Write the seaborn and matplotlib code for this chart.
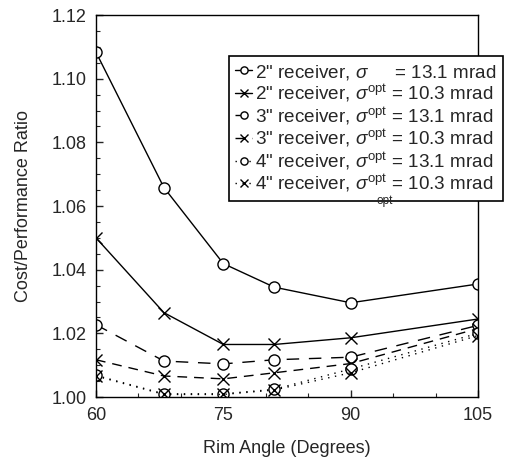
import matplotlib
matplotlib.use("Agg")
import matplotlib.pyplot as plt
from matplotlib.ticker import MultipleLocator
import seaborn as sns
import pandas as pd

# rim angles (degrees)
rim_angle = [60, 68, 75, 81, 90, 105]

# cost/performance ratio for each receiver / slope error case
r2_131 = [1.1083, 1.0658, 1.0419, 1.0345, 1.0296, 1.0355]
r2_103 = [1.0500, 1.0265, 1.0165, 1.0165, 1.0186, 1.0245]
r3_131 = [1.0227, 1.0113, 1.0104, 1.0117, 1.0125, 1.0225]
r3_103 = [1.0117, 1.0066, 1.0057, 1.0076, 1.0105, 1.0215]
r4_131 = [1.0068, 1.0010, 1.0010, 1.0024, 1.0088, 1.0200]
r4_103 = [1.0066, 1.0008, 1.0008, 1.0022, 1.0076, 1.0193]

labels = [
    '2" receiver, $\\sigma\\quad\\;\\,$ = 13.1 mrad',
    '2" receiver, $\\sigma^{\\mathrm{opt}}$ = 10.3 mrad',
    '3" receiver, $\\sigma^{\\mathrm{opt}}$ = 13.1 mrad',
    '3" receiver, $\\sigma^{\\mathrm{opt}}$ = 10.3 mrad',
    '4" receiver, $\\sigma^{\\mathrm{opt}}$ = 13.1 mrad',
    '4" receiver, $\\sigma^{\\mathrm{opt}}$ = 10.3 mrad',
]

sns.set_style("ticks")
plt.rcParams['font.family'] = ['Liberation Sans', 'DejaVu Sans']
plt.rcParams['mathtext.fontset'] = 'custom'
plt.rcParams['mathtext.rm'] = 'Liberation Sans'
plt.rcParams['mathtext.it'] = 'Liberation Sans:italic'
plt.rcParams['xtick.direction'] = 'in'
plt.rcParams['ytick.direction'] = 'in'

fig = plt.figure(figsize=(5.1, 4.61), dpi=100)
ax = fig.add_axes([96 / 510, 1 - 397 / 461, (478 - 96) / 510, (397 - 15) / 461])

series = [r2_131, r2_103, r3_131, r3_103, r4_131, r4_103]
markers = ['o', 'x', 'o', 'x', 'o', 'x']
styles = ['-', '-', (0, (9, 7)), (0, (7, 5)), (0, (1, 4)), (0, (1, 4))]

for vals, lab, m, ls in zip(series, labels, markers, styles):
    df = pd.DataFrame({'angle': rim_angle, 'ratio': vals})
    sns.lineplot(data=df, x='angle', y='ratio', ax=ax, label=lab,
                 color='black', linewidth=1.0, linestyle=ls,
                 marker=m, markersize=8, markerfacecolor='white',
                 markeredgecolor='black', markeredgewidth=1.0)

ax.set_xlim(60, 105)
ax.set_ylim(1.00, 1.12)
ax.xaxis.set_major_locator(MultipleLocator(15))
ax.xaxis.set_minor_locator(MultipleLocator(5))
ax.yaxis.set_minor_locator(MultipleLocator(0.005))
ax.set_yticks([1.00, 1.02, 1.04, 1.06, 1.08, 1.10, 1.12])
ax.set_yticklabels(['1.00', '1.02', '1.04', '1.06', '1.08', '1.10', '1.12'])
ax.tick_params(which='major', length=5, width=1, labelsize=13, pad=7)
ax.tick_params(which='minor', length=3, width=0.8)
for s in ax.spines.values():
    s.set_linewidth(1.0)
    s.set_color('black')

ax.set_xlabel('Rim Angle (Degrees)', fontsize=13, labelpad=12)
ax.set_ylabel('Cost/Performance Ratio', fontsize=13, labelpad=14)

leg = ax.legend(loc='upper right', bbox_to_anchor=(503 / 510, 1 - 56 / 461),
                bbox_transform=fig.transFigure, fontsize=13.6, frameon=True,
                fancybox=False, edgecolor='black', handlelength=0.9,
                handletextpad=0.15, labelspacing=0.05, borderpad=0.35,
                borderaxespad=0, markerscale=0.65)
leg.get_frame().set_linewidth(1.2)
leg.get_frame().set_alpha(1)
fig.text(385 / 510, 1 - 201 / 461, 'opt', fontsize=8.5, ha='center', va='center')

fig.savefig('out.png', dpi=100)
